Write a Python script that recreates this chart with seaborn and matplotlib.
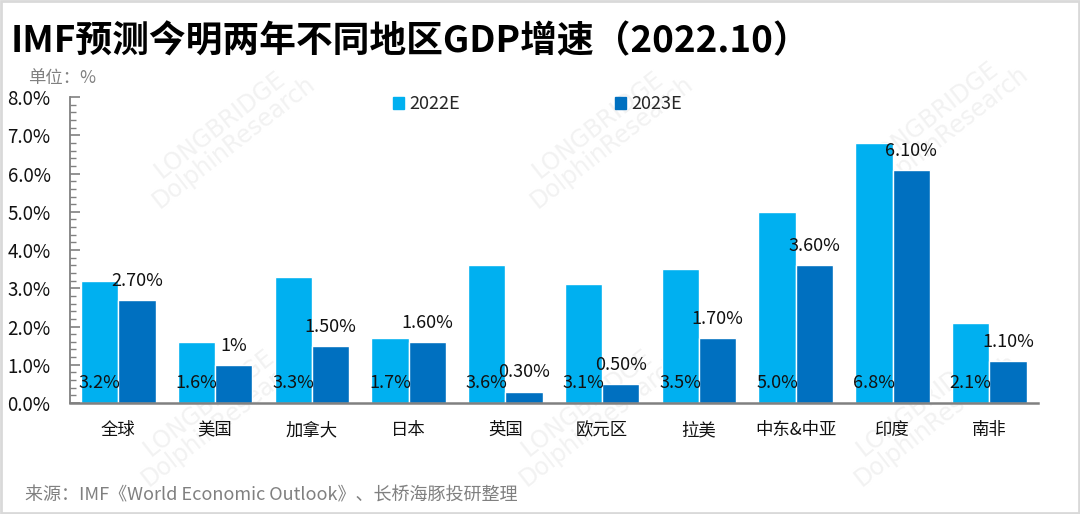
import matplotlib
matplotlib.use('Agg')
import matplotlib.pyplot as plt
import matplotlib.patches as mpatches
from matplotlib.ticker import MultipleLocator, FuncFormatter
import seaborn as sns
import pandas as pd

# 数据
regions = ['全球', '美国', '加拿大', '日本', '英国', '欧元区', '拉美', '中东&中亚', '印度', '南非']
gdp_2022 = [3.2, 1.6, 3.3, 1.7, 3.6, 3.1, 3.5, 5.0, 6.8, 2.1]
gdp_2023 = [2.7, 1.0, 1.5, 1.6, 0.3, 0.5, 1.7, 3.6, 6.1, 1.1]
labels_2023 = ['2.70%', '1%', '1.50%', '1.60%', '0.30%', '0.50%', '1.70%', '3.60%', '6.10%', '1.10%']
series = ['2022E', '2023E']
colors = ['#00B0F0', '#0070C0']

df = pd.DataFrame({
    '地区': regions * 2,
    '年份': [series[0]] * len(regions) + [series[1]] * len(regions),
    '增速': gdp_2022 + gdp_2023,
})

sns.set_theme(style='white')
plt.rcParams['font.family'] = ['Noto Sans CJK SC', 'DejaVu Sans']
plt.rcParams['axes.unicode_minus'] = False

fig = plt.figure(figsize=(10.8, 5.14), dpi=100)
ax = fig.add_axes([0.0648, 0.216, 0.896, 0.595])
ax.patch.set_alpha(0)

sns.barplot(data=df, x='地区', y='增速', hue='年份', palette=colors,
            width=0.77, gap=0, saturation=1, ax=ax, legend=False, zorder=2)

# 数据标签
for i, v in enumerate(gdp_2022):
    ax.text(i - 0.1925, 0.52, f'{v:.1f}%', ha='center', va='center',
            fontsize=13, color='#111111', zorder=3)
for i, (v, lab) in enumerate(zip(gdp_2023, labels_2023)):
    ax.text(i + 0.1925, v + 0.5, lab, ha='center', va='center',
            fontsize=13, color='#111111', zorder=3)

ax.set_ylim(0, 8)
ax.set_xlim(-0.5, len(regions) - 0.5)
ax.yaxis.set_major_locator(MultipleLocator(1))
ax.yaxis.set_minor_locator(MultipleLocator(0.2))
ax.yaxis.set_major_formatter(FuncFormatter(lambda y, _: f'{y:.1f}%'))
ax.tick_params(axis='y', which='major', direction='in', length=7, width=1.2,
               color='#808080', labelsize=13.5, pad=14, left=True)
ax.tick_params(axis='y', which='minor', direction='in', length=4, width=1.0,
               color='#808080', left=True)
ax.tick_params(axis='x', length=0, labelsize=12.5, pad=13)
ax.set_xlabel('')
ax.set_ylabel('')
for s in ['top', 'right']:
    ax.spines[s].set_visible(False)
ax.spines['left'].set_color('#808080')
ax.spines['left'].set_linewidth(1.3)
ax.spines['bottom'].set_color('#808080')
ax.spines['bottom'].set_linewidth(1.8)
for lab in ax.get_yticklabels() + ax.get_xticklabels():
    lab.set_color('#111111')

# 图例
handles = [mpatches.Patch(color=c, label=s) for c, s in zip(colors, series)]
fig.legend(handles=handles, loc='center left', bbox_to_anchor=(0.349, 0.797),
           ncol=2, frameon=False, fontsize=13, handlelength=0.6, handleheight=0.6,
           handletextpad=0.3, columnspacing=8.6)

# 水印
for (wx, wy) in [(0.21, 0.74), (0.56, 0.74), (0.87, 0.76), (0.2, 0.2), (0.55, 0.2), (0.86, 0.2)]:
    fig.text(wx, wy, 'LONGBRIDGE\nDolphinResearch', rotation=38, ha='center', va='center',
             fontsize=17, color='#F2F2F2', zorder=-1, family='DejaVu Sans', linespacing=0.9)

# 标题和注释
fig.text(0.010, 0.918, 'IMF预测今明两年不同地区GDP增速（2022.10）', fontsize=26.5,
         fontweight='heavy', color='#000000', va='center', ha='left')
fig.text(0.026, 0.848, '单位：%', fontsize=12.5, color='#808080', va='center', ha='left')
fig.text(0.023, 0.037, '来源：IMF《World Economic Outlook》、长桥海豚投研整理',
         fontsize=13, color='#808080', va='center', ha='left')

# 边框
fig.patches.append(mpatches.Rectangle((0.001, 0.002), 0.998, 0.996, transform=fig.transFigure,
                                      fill=False, edgecolor='#D9D9D9', linewidth=2))

fig.savefig('out.png', dpi=100)
